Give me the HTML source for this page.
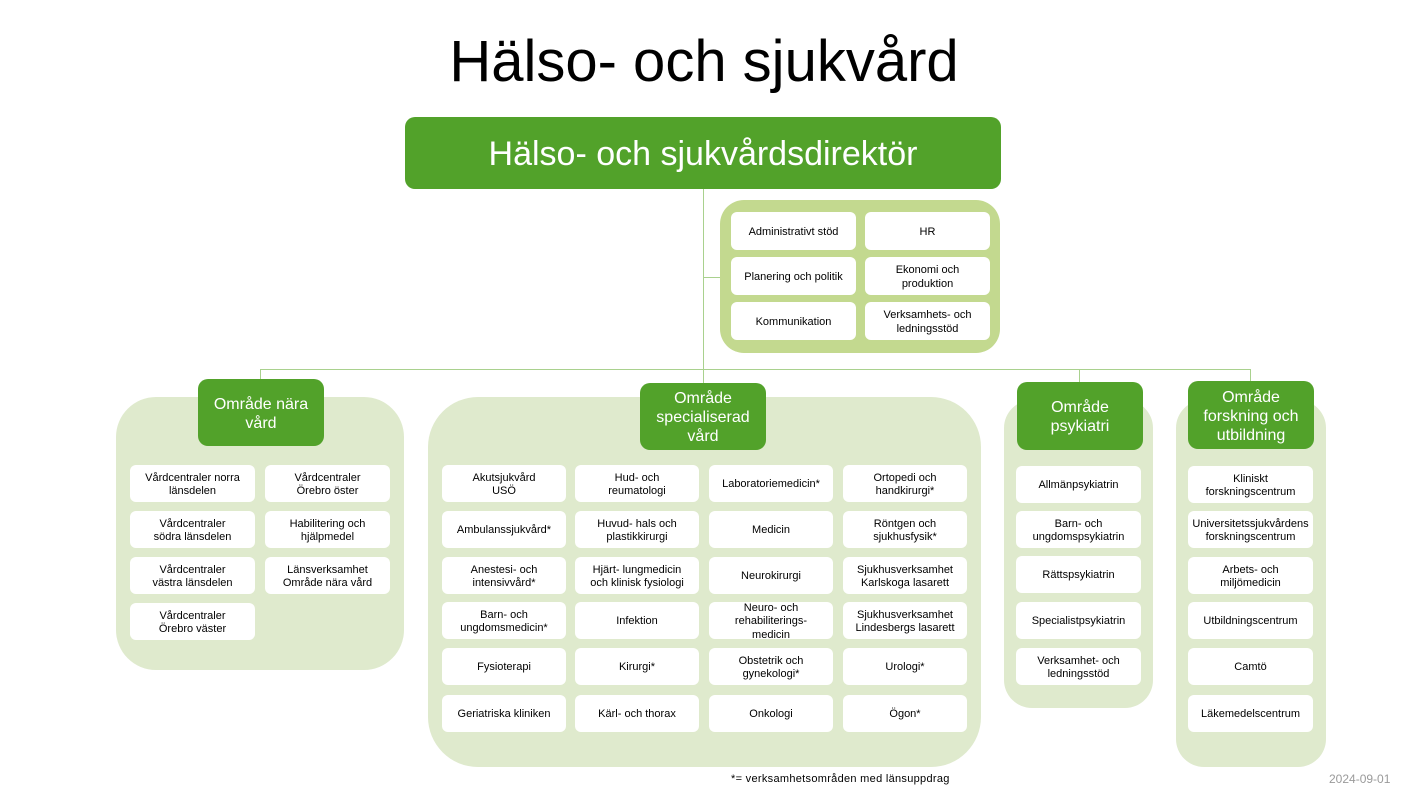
<!DOCTYPE html>
<html><head><meta charset="utf-8"><style>
*{margin:0;padding:0;box-sizing:border-box}
body{width:1408px;height:792px;background:#fff;position:relative;overflow:hidden;font-family:"Liberation Sans",Arial,sans-serif}
.a{position:absolute}
.p{position:absolute;background:#dfeacd;border-radius:40px}
.h{position:absolute;background:#52a22a;color:#fff;border-radius:10px;display:flex;align-items:center;justify-content:center;text-align:center;font-size:16px;line-height:19px;padding-top:2px}
.b{position:absolute;background:#fff;border-radius:6px;display:flex;align-items:center;justify-content:center;text-align:center;font-size:11px;line-height:13.5px;color:#000;padding-top:3px}
.l{position:absolute;background:#a9d18e}
</style></head><body>
<div class="a" style="left:0;width:1408px;top:27px;text-align:center;font-size:58px;line-height:70px">Hälso- och sjukvård</div>
<div class="h" style="left:405px;top:117px;width:596px;height:72px;font-size:34px;line-height:40px">Hälso- och sjukvårdsdirektör</div>

<div class="l" style="left:703px;top:189px;width:1px;height:194px"></div>
<div class="l" style="left:703px;top:277px;width:18px;height:1px"></div>
<div class="l" style="left:260px;top:369px;width:991px;height:1px"></div>
<div class="l" style="left:260px;top:369px;width:1px;height:12px"></div>
<div class="l" style="left:1079px;top:369px;width:1px;height:14px"></div>
<div class="l" style="left:1250px;top:369px;width:1px;height:13px"></div>

<div class="a" style="left:720px;top:200px;width:280px;height:153px;background:#c3d98f;border-radius:24px"></div>
<div class="b" style="left:731px;top:212px;width:125px;height:38px">Administrativt stöd</div>
<div class="b" style="left:865px;top:212px;width:125px;height:38px">HR</div>
<div class="b" style="left:731px;top:257px;width:125px;height:38px">Planering och politik</div>
<div class="b" style="left:865px;top:257px;width:125px;height:38px">Ekonomi och<br>produktion</div>
<div class="b" style="left:731px;top:302px;width:125px;height:38px">Kommunikation</div>
<div class="b" style="left:865px;top:302px;width:125px;height:38px">Verksamhets- och<br>ledningsstöd</div>

<div class="p" style="left:116px;top:397px;width:288px;height:273px"></div>
<div class="h" style="left:198px;top:379px;width:126px;height:67px">Område nära<br>vård</div>
<div class="b" style="left:130px;top:465px;width:125px;height:37px">Vårdcentraler norra<br>länsdelen</div>
<div class="b" style="left:265px;top:465px;width:125px;height:37px">Vårdcentraler<br>Örebro öster</div>
<div class="b" style="left:130px;top:511px;width:125px;height:37px">Vårdcentraler<br>södra länsdelen</div>
<div class="b" style="left:265px;top:511px;width:125px;height:37px">Habilitering och<br>hjälpmedel</div>
<div class="b" style="left:130px;top:557px;width:125px;height:37px">Vårdcentraler<br>västra länsdelen</div>
<div class="b" style="left:265px;top:557px;width:125px;height:37px">Länsverksamhet<br>Område nära vård</div>
<div class="b" style="left:130px;top:603px;width:125px;height:37px">Vårdcentraler<br>Örebro väster</div>

<div class="p" style="left:428px;top:397px;width:553px;height:370px;border-radius:50px"></div>
<div class="h" style="left:640px;top:383px;width:126px;height:67px">Område<br>specialiserad<br>vård</div>
<div class="b" style="left:442px;top:465px;width:124px;height:37px">Akutsjukvård<br>USÖ</div>
<div class="b" style="left:575px;top:465px;width:124px;height:37px">Hud- och<br>reumatologi</div>
<div class="b" style="left:709px;top:465px;width:124px;height:37px">Laboratoriemedicin*</div>
<div class="b" style="left:843px;top:465px;width:124px;height:37px">Ortopedi och<br>handkirurgi*</div>
<div class="b" style="left:442px;top:511px;width:124px;height:37px">Ambulanssjukvård*</div>
<div class="b" style="left:575px;top:511px;width:124px;height:37px">Huvud- hals och<br>plastikkirurgi</div>
<div class="b" style="left:709px;top:511px;width:124px;height:37px">Medicin</div>
<div class="b" style="left:843px;top:511px;width:124px;height:37px">Röntgen och<br>sjukhusfysik*</div>
<div class="b" style="left:442px;top:557px;width:124px;height:37px">Anestesi- och<br>intensivvård*</div>
<div class="b" style="left:575px;top:557px;width:124px;height:37px">Hjärt- lungmedicin<br>och klinisk fysiologi</div>
<div class="b" style="left:709px;top:557px;width:124px;height:37px">Neurokirurgi</div>
<div class="b" style="left:843px;top:557px;width:124px;height:37px">Sjukhusverksamhet<br>Karlskoga lasarett</div>
<div class="b" style="left:442px;top:602px;width:124px;height:37px">Barn- och<br>ungdomsmedicin*</div>
<div class="b" style="left:575px;top:602px;width:124px;height:37px">Infektion</div>
<div class="b" style="left:709px;top:602px;width:124px;height:37px">Neuro- och<br>rehabiliterings-<br>medicin</div>
<div class="b" style="left:843px;top:602px;width:124px;height:37px">Sjukhusverksamhet<br>Lindesbergs lasarett</div>
<div class="b" style="left:442px;top:648px;width:124px;height:37px">Fysioterapi</div>
<div class="b" style="left:575px;top:648px;width:124px;height:37px">Kirurgi*</div>
<div class="b" style="left:709px;top:648px;width:124px;height:37px">Obstetrik och<br>gynekologi*</div>
<div class="b" style="left:843px;top:648px;width:124px;height:37px">Urologi*</div>
<div class="b" style="left:442px;top:695px;width:124px;height:37px">Geriatriska kliniken</div>
<div class="b" style="left:575px;top:695px;width:124px;height:37px">Kärl- och thorax</div>
<div class="b" style="left:709px;top:695px;width:124px;height:37px">Onkologi</div>
<div class="b" style="left:843px;top:695px;width:124px;height:37px">Ögon*</div>

<div class="p" style="left:1004px;top:400px;width:149px;height:308px;border-radius:28px"></div>
<div class="h" style="left:1017px;top:382px;width:126px;height:68px">Område<br>psykiatri</div>
<div class="b" style="left:1016px;top:466px;width:125px;height:37px">Allmänpsykiatrin</div>
<div class="b" style="left:1016px;top:511px;width:125px;height:37px">Barn- och<br>ungdomspsykiatrin</div>
<div class="b" style="left:1016px;top:556px;width:125px;height:37px">Rättspsykiatrin</div>
<div class="b" style="left:1016px;top:602px;width:125px;height:37px">Specialistpsykiatrin</div>
<div class="b" style="left:1016px;top:648px;width:125px;height:37px">Verksamhet- och<br>ledningsstöd</div>

<div class="p" style="left:1176px;top:400px;width:150px;height:367px;border-radius:28px"></div>
<div class="h" style="left:1188px;top:381px;width:126px;height:68px">Område<br>forskning och<br>utbildning</div>
<div class="b" style="left:1188px;top:466px;width:125px;height:37px">Kliniskt<br>forskningscentrum</div>
<div class="b" style="left:1188px;top:511px;width:125px;height:37px">Universitetssjukvårdens<br>forskningscentrum</div>
<div class="b" style="left:1188px;top:557px;width:125px;height:37px">Arbets- och<br>miljömedicin</div>
<div class="b" style="left:1188px;top:602px;width:125px;height:37px">Utbildningscentrum</div>
<div class="b" style="left:1188px;top:648px;width:125px;height:37px">Camtö</div>
<div class="b" style="left:1188px;top:695px;width:125px;height:37px">Läkemedelscentrum</div>

<div class="a" style="left:731px;top:772px;font-size:11px;line-height:14px;color:#000;letter-spacing:0.3px">*= verksamhetsområden med länsuppdrag</div>
<div class="a" style="left:1329px;top:772px;font-size:12px;line-height:14px;color:#9a9a9a">2024-09-01</div>
</body></html>
